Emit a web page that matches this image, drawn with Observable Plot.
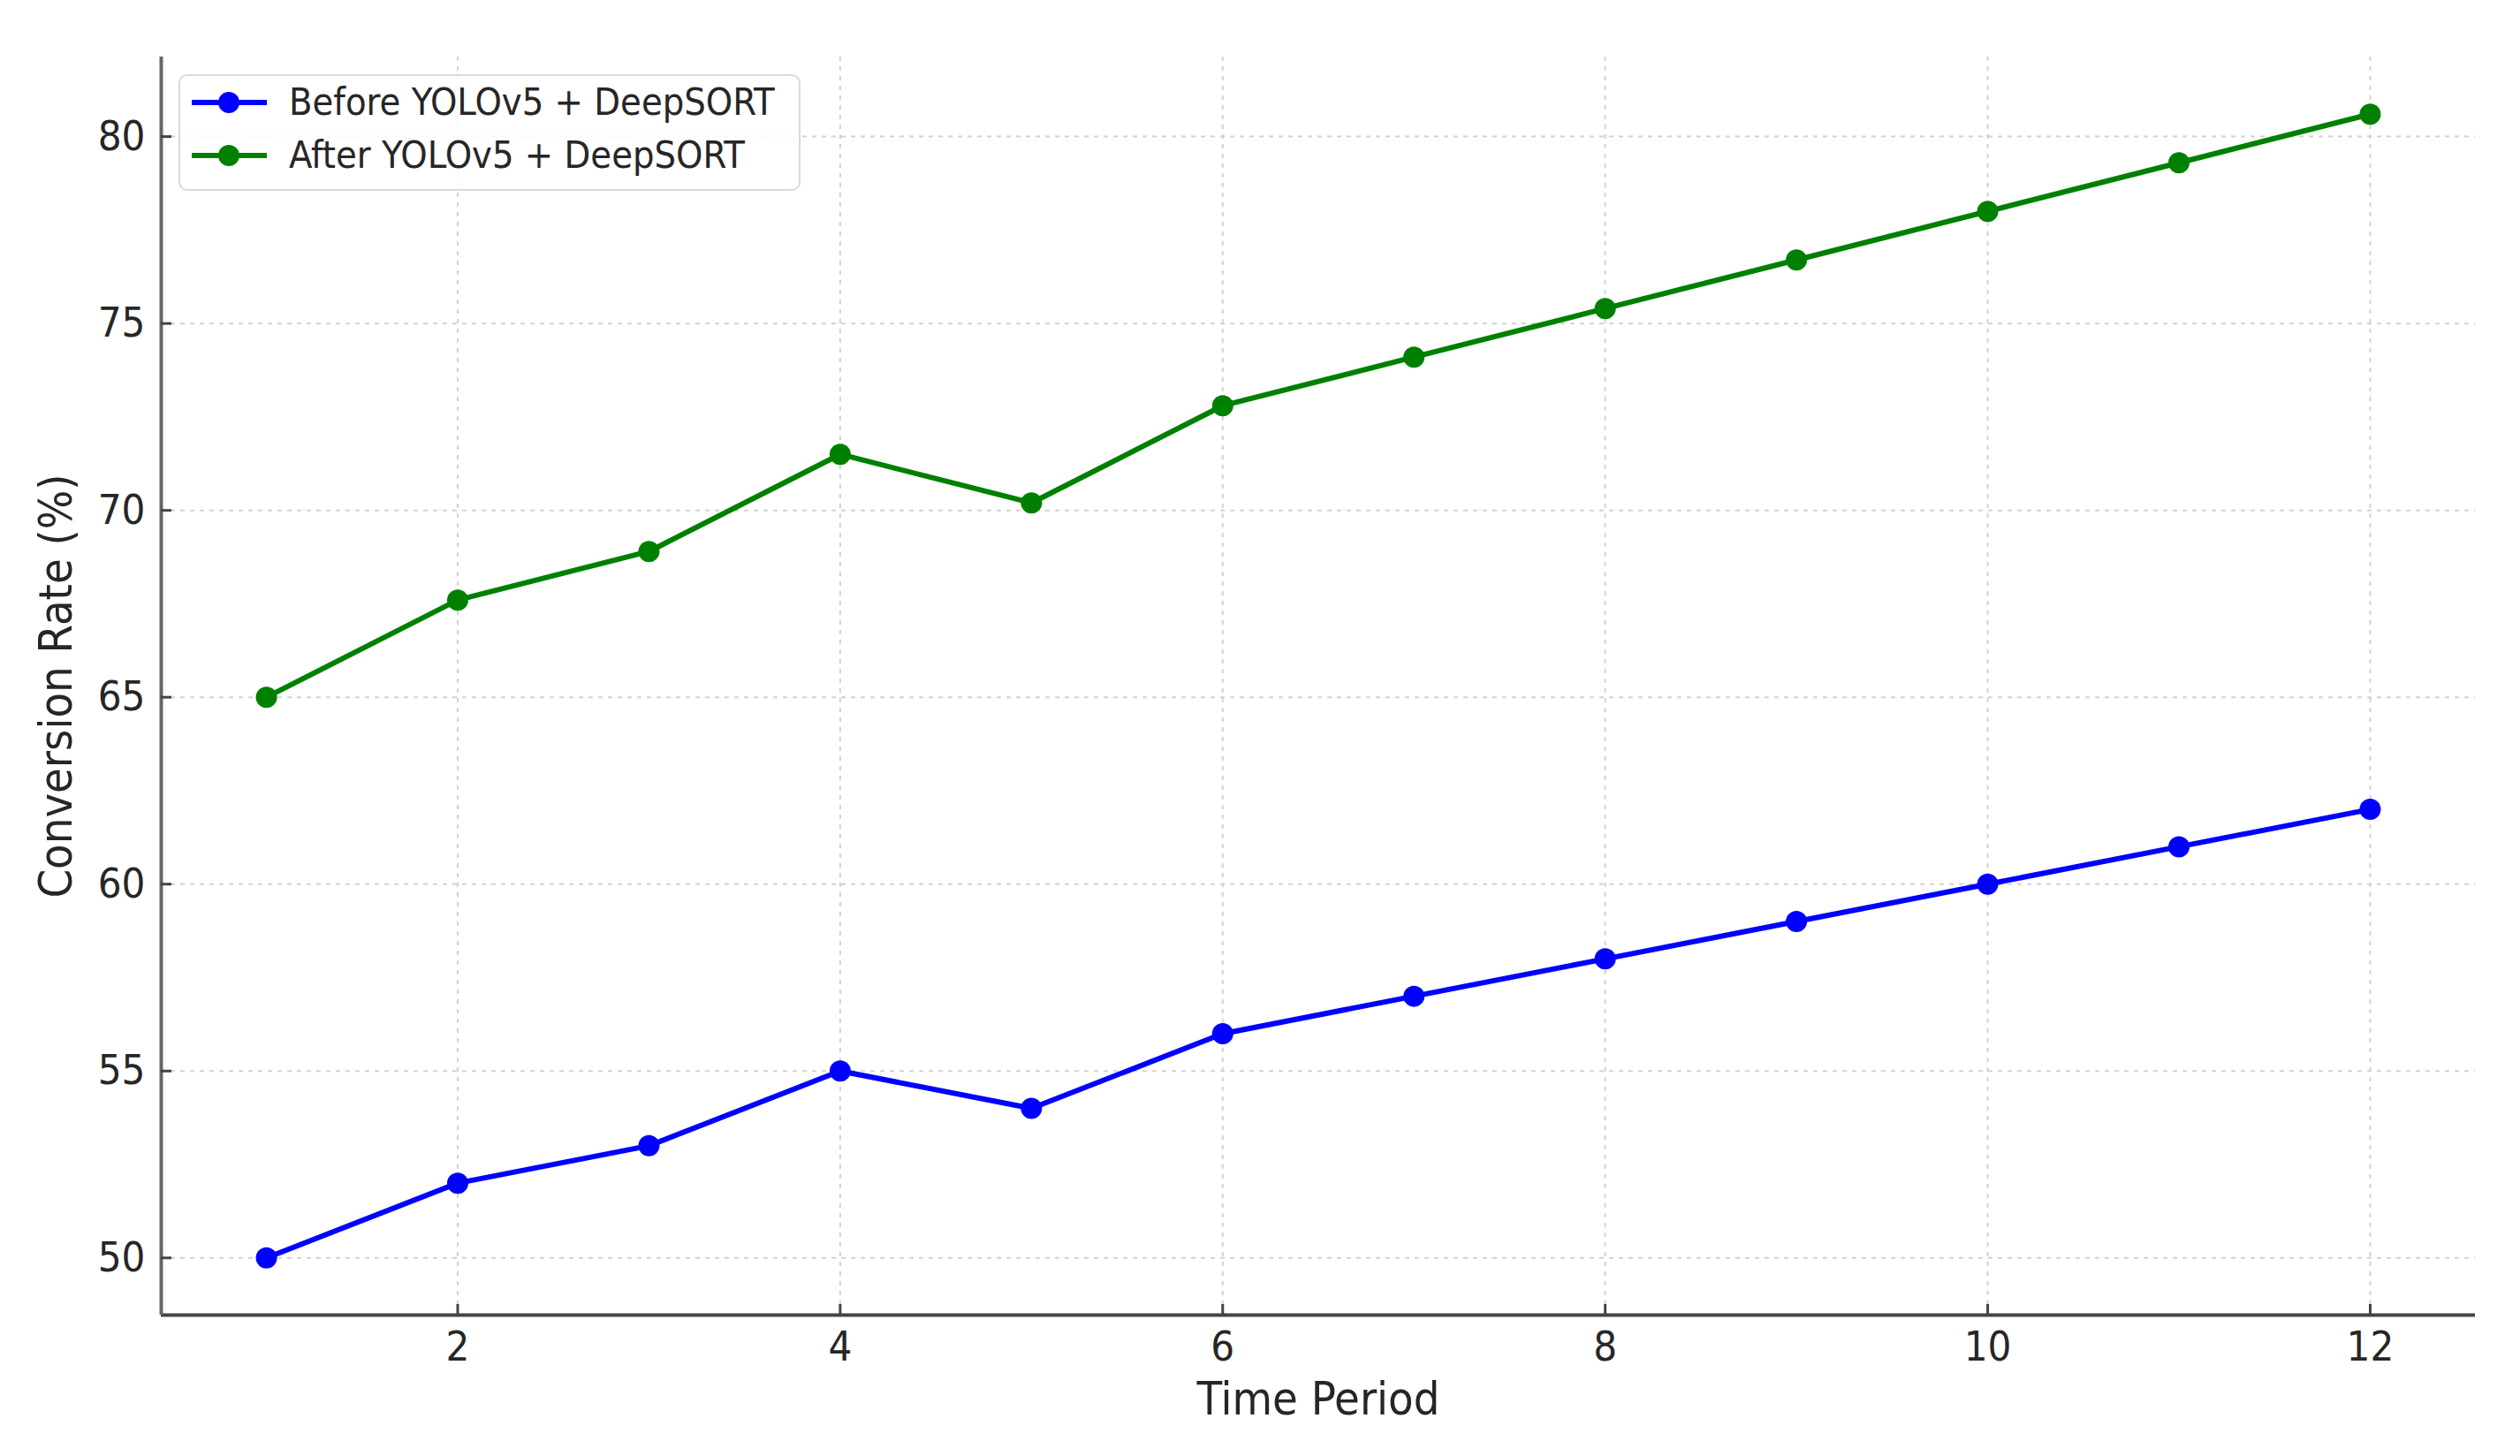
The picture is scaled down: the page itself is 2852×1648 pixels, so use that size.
<!DOCTYPE html>
<html>
<head>
<meta charset="utf-8">
<script src="https://cdn.jsdelivr.net/npm/d3@7"></script>
<script src="https://cdn.jsdelivr.net/npm/@observablehq/plot@0.6"></script>
<style>
  html, body { margin: 0; padding: 0; background: #fff; }
  #wrap { position: relative; width: 2852px; height: 1648px; }
  #legend { position: absolute; left: 202px; top: 84px; width: 700px; height: 128px;
    border: 2px solid #d9d9d9; border-radius: 10px; background: rgba(255,255,255,0.85);
    font-family: "DejaVu Sans Condensed", "DejaVu Sans", sans-serif; font-size: 43px; color: #262626; }
  .row { position: absolute; left: 0; height: 60px; width: 100%; }
  .row svg { position: absolute; left: 11px; top: 0; }
  .row span { position: absolute; left: 123px; top: 50%; transform: translateY(-52%); white-space: nowrap; }
</style>
</head>
<body>
<div id="wrap"><div id="legend"></div></div>
<script>
const timePeriods = [1, 2, 3, 4, 5, 6, 7, 8, 9, 10, 11, 12];
const beforeRates = [50, 52, 53, 55, 54, 56, 57, 58, 59, 60, 61, 62];
const afterRates = [65, 67.6, 68.9, 71.5, 70.2, 72.8, 74.1, 75.4, 76.7, 78.0, 79.3, 80.6];
const seriesNames = ["Before YOLOv5 + DeepSORT", "After YOLOv5 + DeepSORT"];
const seriesColors = ["#0000ff", "#008000"];
const xTicks = [2, 4, 6, 8, 10, 12];
const yTicks = [50, 55, 60, 65, 70, 75, 80];
const xLabel = "Time Period";
const yLabel = "Conversion Rate (%)";

const data = [
  ...timePeriods.map((t, i) => ({t, v: beforeRates[i], s: seriesNames[0]})),
  ...timePeriods.map((t, i) => ({t, v: afterRates[i], s: seriesNames[1]}))
];

const xDomain = [0.45, 12.55];
const yDomain = [48.47, 82.13];
const font = "DejaVu Sans Condensed, DejaVu Sans, sans-serif";

const chart = Plot.plot({
  width: 2852,
  height: 1648,
  marginLeft: 182,
  marginRight: 51,
  marginTop: 64,
  marginBottom: 160,
  style: {fontFamily: font, color: "#262626", background: "transparent"},
  x: {domain: xDomain},
  y: {domain: yDomain},
  color: {domain: seriesNames, range: seriesColors},
  marks: [
    Plot.gridX(xTicks, {stroke: "#d2d2d2", strokeOpacity: 1, strokeWidth: 2, strokeDasharray: "5,6"}),
    Plot.gridY(yTicks, {stroke: "#d2d2d2", strokeOpacity: 1, strokeWidth: 2, strokeDasharray: "5,6"}),
    Plot.ruleY([yDomain[0]], {stroke: "#444", strokeWidth: 4}),
    Plot.ruleX([xDomain[0]], {stroke: "#666", strokeWidth: 4}),
    Plot.ruleX(xTicks, {x: d => d, y1: yDomain[0], y2: yDomain[0], insetBottom: 12, stroke: "#444", strokeWidth: 3}),
    Plot.ruleY(yTicks, {y: d => d, x1: xDomain[0], x2: xDomain[0], insetRight: -12, stroke: "#444", strokeWidth: 3}),
    Plot.axisX(xTicks, {tickSize: 0, tickPadding: 18, fontSize: 47, label: null, fill: "#262626", tickFormat: d => String(d)}),
    Plot.axisY(yTicks, {tickSize: 0, tickPadding: 18, fontSize: 47, label: null, fill: "#262626", tickFormat: d => String(d)}),
    Plot.text([xLabel], {frameAnchor: "bottom", dy: 112, fontSize: 52, fill: "#262626"}),
    Plot.text([yLabel], {frameAnchor: "left", dx: -118, rotate: -90, textAnchor: "middle", fontSize: 52, fill: "#262626"}),
    Plot.line(data, {x: "t", y: "v", z: "s", stroke: "s", strokeWidth: 6}),
    Plot.dot(data, {x: "t", y: "v", fill: "s", r: 12})
  ]
});

const wrap = document.getElementById("wrap");
wrap.insertBefore(chart, wrap.firstChild);

const legend = document.getElementById("legend");
const rowCenters = [30, 90];
seriesNames.forEach((name, i) => {
  const row = document.createElement("div");
  row.className = "row";
  row.style.top = (rowCenters[i] - 30) + "px";
  row.innerHTML = `<svg width="90" height="60"><line x1="2" y1="30" x2="87" y2="30" stroke="${seriesColors[i]}" stroke-width="6"/><circle cx="44" cy="30" r="12" fill="${seriesColors[i]}"/></svg><span>${name}</span>`;
  legend.appendChild(row);
});
</script>
</body>
</html>
